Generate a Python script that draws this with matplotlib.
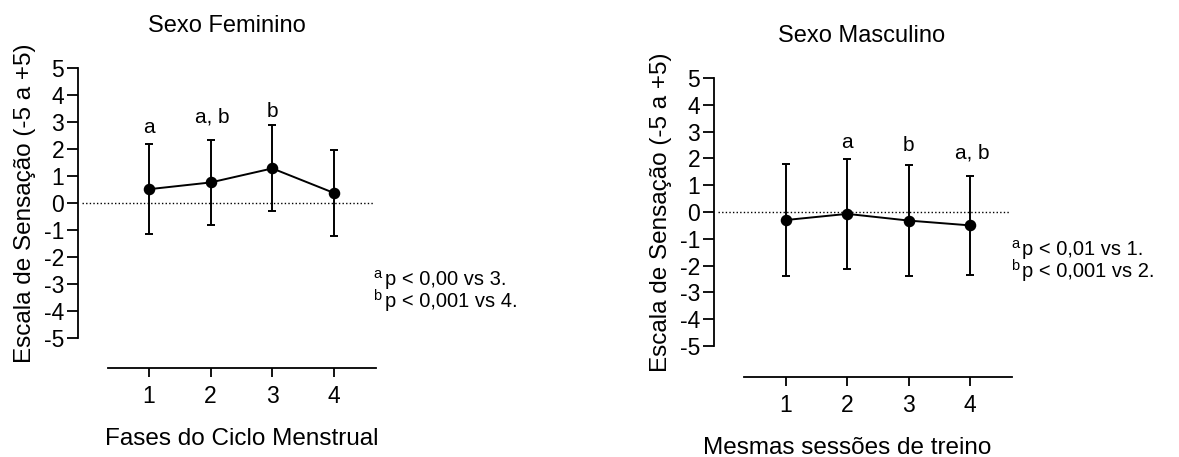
import matplotlib
matplotlib.use("Agg")
import matplotlib.pyplot as plt

plt.rcParams['font.family'] = ['Liberation Sans', 'DejaVu Sans']

# ---- data -------------------------------------------------------------
sessions = [1, 2, 3, 4]
fem_mean = [0.50, 0.75, 1.27, 0.36]
fem_sd = [1.66, 1.58, 1.59, 1.59]
fem_letters = ['a', 'a, b', 'b', '']
masc_mean = [-0.30, -0.07, -0.32, -0.50]
masc_sd = [2.08, 2.05, 2.06, 1.85]
masc_letters = ['', 'a', 'b', 'a, b']
yticks = [5, 4, 3, 2, 1, 0, -1, -2, -3, -4, -5]
ytick_labels = ['5', '4', '3', '2', '1', '0', '-1', '-2', '-3', '-4', '-5']

fem_notes = [('a', 'p < 0,00 vs 3.'), ('b', 'p < 0,001 vs 4.')]
masc_notes = [('a', 'p < 0,01 vs 1.'), ('b', 'p < 0,001 vs 2.')]

W, H = 1179, 457
fig = plt.figure(figsize=(W / 100, H / 100), dpi=100)


def fx(px):
    return px / W


def fy(py):
    return 1 - py / H


def panel(box, x1px, dxpx, y0px, dypx, mean, sd, letters, letter_off,
          xaxis_px, zero_px):
    left, right, top, bottom = box
    ax = fig.add_axes([fx(left), fy(bottom), fx(right - left), (bottom - top) / H])
    ax.set_xlim(1 + (left - x1px) / dxpx, 1 + (right - x1px) / dxpx)
    ax.set_ylim((y0px - bottom) / dypx, (y0px - top) / dypx)
    ax.patch.set_visible(False)
    for s in ('top', 'right'):
        ax.spines[s].set_visible(False)
    ax.spines['left'].set_bounds(-5, 5)
    ax.spines['bottom'].set_bounds(1 + (xaxis_px[0] - x1px) / dxpx,
                                   1 + (xaxis_px[1] - x1px) / dxpx)
    for s in ('left', 'bottom'):
        ax.spines[s].set_linewidth(1.3)
    ax.set_yticks(yticks)
    ax.set_yticklabels(ytick_labels)
    ax.set_xticks(sessions)
    ax.tick_params(axis='y', length=8, width=1.3, pad=2, labelsize=16.5)
    ax.tick_params(axis='x', length=6.5, width=1.3, pad=6, labelsize=16.5)

    # dotted reference line at zero
    ax.plot([1 + (zero_px[0] - x1px) / dxpx, 1 + (zero_px[1] - x1px) / dxpx], [0, 0],
            color='black', lw=1.0, ls=(0, (1, 1.6)), clip_on=False)

    ax.errorbar(sessions, mean, yerr=sd, fmt='-o', color='black', lw=1.4,
                elinewidth=1.4, capthick=1.4, capsize=2.9, ms=7.3, clip_on=False)

    for x, m, s, lab, off in zip(sessions, mean, sd, letters, letter_off):
        if lab:
            ax.text(x + (0.03 if ',' in lab else 0), m + s + off, lab,
                    ha='center', va='baseline', fontsize=15)
    return ax


panel((78, 376, 40, 368), 149, 61.67, 202.7, 27.0, fem_mean, fem_sd,
      fem_letters, [0.41, 0.63, 0.33, 0], (108, 375.7), (81.7, 373))
panel((714, 1012, 40, 377), 785.7, 61.5, 212, 26.8, masc_mean, masc_sd,
      masc_letters, [0, 0.42, 0.55, 0.65], (744, 1011.7), (718, 1010))

# titles and axis labels
fig.text(fx(226.7), fy(32), 'Sexo Feminino', ha='center', va='baseline', fontsize=17)
fig.text(fx(862), fy(41.7), 'Sexo Masculino', ha='center', va='baseline', fontsize=17)
fig.text(fx(31), fy(203), 'Escala de Sensação (-5 a +5)', rotation=90,
         rotation_mode='anchor', ha='center', va='baseline', fontsize=17.5)
fig.text(fx(666.7), fy(212.5), 'Escala de Sensação (-5 a +5)', rotation=90,
         rotation_mode='anchor', ha='center', va='baseline', fontsize=17.5)
fig.text(fx(242), fy(445), 'Fases do Ciclo Menstrual', ha='center', va='baseline',
         fontsize=17.5)
fig.text(fx(847), fy(454), 'Mesmas sessões de treino', ha='center', va='baseline',
         fontsize=17.5)


def notes(items, x_sup, x_txt, y0, dy):
    for i, (sup, txt) in enumerate(items):
        yb = y0 + i * dy
        fig.text(fx(x_sup), fy(yb - 7), sup, ha='left', va='baseline', fontsize=10.5)
        fig.text(fx(x_txt), fy(yb), txt, ha='left', va='baseline', fontsize=14.5)


notes(fem_notes, 373, 385, 285, 22)
notes(masc_notes, 1011, 1022, 255, 22)

fig.savefig('out.png', dpi=100)
